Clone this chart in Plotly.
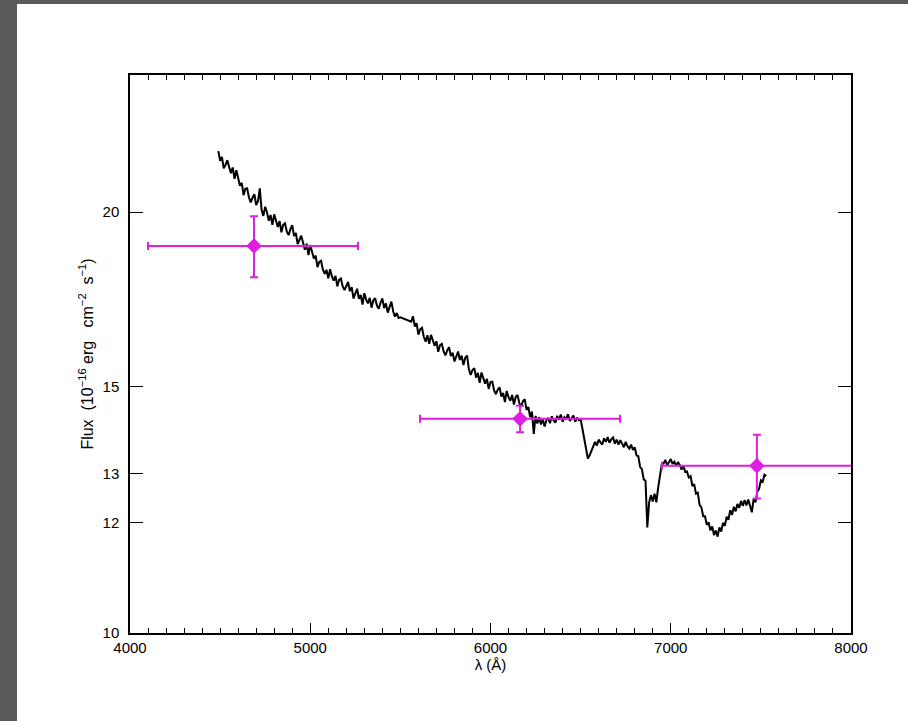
import plotly.graph_objects as go

# ---- Spectrum: flux (1e-16 erg cm^-2 s^-1) sampled every 10 Å from 4490 Å ----
WAVE_START = 4490
WAVE_STEP = 10
spec_flux = [
    22.12, 21.77, 21.91, 21.50, 21.62, 21.79, 21.55, 21.33, 21.53, 21.13,  # 4490
    21.43, 21.10, 20.89, 20.99, 20.57, 20.79, 20.80, 20.49, 20.33, 20.49,  # 4590
    20.60, 20.24, 20.37, 20.80, 20.08, 19.88, 20.18, 20.00, 19.72, 19.91,  # 4690
    19.59, 19.93, 19.68, 19.52, 19.71, 19.35, 19.59, 19.64, 19.37, 19.26,  # 4790
    19.45, 19.58, 19.23, 19.33, 18.98, 19.10, 19.24, 19.03, 18.80, 18.99,  # 4890
    18.64, 18.95, 18.70, 18.53, 18.62, 18.27, 18.43, 18.46, 18.20, 18.07,  # 4990
    18.19, 17.94, 18.21, 17.99, 17.87, 18.01, 17.70, 17.89, 17.93, 17.70,  # 5090
    17.59, 17.73, 17.83, 17.56, 17.68, 17.35, 17.49, 17.63, 17.34, 17.45,  # 5190
    17.18, 17.50, 17.32, 17.21, 17.37, 17.09, 17.30, 17.36, 17.15, 17.06,  # 5290
    17.23, 17.35, 17.08, 17.21, 16.95, 17.12, 17.26, 16.99, 16.84, 16.94,  # 5390
    16.80, 16.82, 16.80, 16.78, 16.76, 16.74, 16.72, 16.70, 16.85, 16.57,  # 5490
    16.66, 16.35, 16.49, 16.53, 16.29, 16.16, 16.33, 16.10, 16.34, 16.16,  # 5590
    16.05, 16.17, 15.89, 16.07, 16.10, 15.90, 15.80, 15.93, 16.01, 15.78,  # 5690
    15.87, 15.64, 15.78, 15.90, 15.68, 15.79, 15.55, 15.74, 15.79, 15.44,  # 5790
    15.30, 15.42, 15.47, 15.23, 15.35, 15.10, 15.36, 15.21, 15.08, 15.20,  # 5890
    14.95, 15.12, 15.13, 14.91, 14.82, 14.93, 14.99, 14.76, 14.85, 14.63,  # 5990
    14.90, 14.75, 14.66, 14.80, 14.57, 14.75, 14.80, 14.60, 14.52, 14.65,  # 6090
    14.70, 14.44, 14.51, 14.27, 14.40, 13.88, 14.30, 14.12, 14.27, 14.10,  # 6190
    14.22, 14.05, 14.20, 14.25, 14.13, 14.29, 14.19, 14.14, 14.30, 14.21,  # 6290
    14.33, 14.16, 14.27, 14.22, 14.34, 14.18, 14.25, 14.31, 14.16, 14.26,  # 6390
    14.20, 14.22, 14.00, 13.75, 13.50, 13.33, 13.40, 13.50, 13.58, 13.70,  # 6490
    13.62, 13.75, 13.69, 13.64, 13.78, 13.70, 13.81, 13.68, 13.76, 13.80,  # 6590
    13.66, 13.75, 13.64, 13.74, 13.66, 13.58, 13.70, 13.60, 13.55, 13.64,  # 6690
    13.52, 13.58, 13.40, 13.38, 13.15, 13.10, 12.88, 12.85, 11.90, 12.40,  # 6790
    12.55, 12.42, 12.58, 12.40, 12.70, 12.93, 13.20, 13.22, 13.30, 13.18,  # 6890
    13.27, 13.32, 13.21, 13.26, 13.17, 13.25, 13.19, 13.09, 13.17, 13.04,  # 6990
    13.05, 12.92, 12.95, 12.74, 12.78, 12.58, 12.60, 12.35, 12.30, 12.12,  # 7090
    12.12, 11.95, 12.00, 11.84, 11.92, 11.75, 11.84, 11.72, 11.90, 11.82,  # 7190
    11.99, 11.93, 12.11, 12.05, 12.24, 12.15, 12.31, 12.22, 12.37, 12.29,  # 7290
    12.43, 12.33, 12.45, 12.34, 12.46, 12.35, 12.20, 12.48, 12.40, 12.62,  # 7390
    12.68, 12.86, 12.83, 12.98, 12.95,                                     # 7490
]
spec_wave = [WAVE_START + WAVE_STEP * i for i in range(len(spec_flux))]

# ---- Broad-band photometry ----
phot_wave = [4688, 6164, 7478]
phot_flux = [18.92, 14.23, 13.17]
phot_wave_err_minus = [588, 555, 527]
phot_wave_err_plus = [577, 555, 527]
phot_flux_err = [0.95, 0.31, 0.69]

# ---- Axis ticks ----
x_tick_vals = [4000, 5000, 6000, 7000, 8000]
x_tick_text = ["4000", "5000", "6000", "7000", "8000"]
y_tick_vals = [10, 12, 13, 15, 20]
y_tick_text = ["10", "12", "13", "15", "20"]

MAGENTA = "#e01ee0"
FONT = dict(family="Liberation Sans, Arial, sans-serif", size=15, color="black")
TITLE_FONT = dict(family="Liberation Sans, Arial, sans-serif", size=16, color="black")
NB = "\u00a0"

fig = go.Figure()

fig.add_trace(go.Scatter(
    x=spec_wave, y=spec_flux, mode="lines",
    line=dict(color="black", width=2),
    hoverinfo="skip", showlegend=False,
))

fig.add_trace(go.Scatter(
    x=phot_wave, y=phot_flux, mode="markers",
    marker=dict(symbol="diamond", size=12, color=MAGENTA),
    error_x=dict(type="data", symmetric=False, array=phot_wave_err_plus,
                 arrayminus=phot_wave_err_minus, color=MAGENTA,
                 thickness=2, width=4),
    error_y=dict(type="data", array=phot_flux_err, color=MAGENTA,
                 thickness=2, width=4),
    showlegend=False,
))

# invisible trace carrying the top axis
fig.add_trace(go.Scatter(x=[4000, 8000], y=[10, 10], xaxis="x2",
                         mode="lines", line=dict(width=0),
                         hoverinfo="skip", showlegend=False))

y_title = (f"Flux{NB}{NB}(10<sup>−16</sup>{NB}erg{NB}{NB}{NB}cm<sup>−2</sup>"
           f"{NB}{NB}s<sup>−1</sup>)" + NB * 6)

fig.update_layout(
    width=908, height=721,
    margin=dict(l=130, r=57, t=75, b=88),
    paper_bgcolor="white", plot_bgcolor="white",
    font=FONT,
    xaxis=dict(
        range=[4000, 8000], tickmode="array", tickvals=x_tick_vals,
        ticktext=x_tick_text, ticks="inside", ticklen=10, tickwidth=1.3,
        tickcolor="black", showline=True, linecolor="black", linewidth=1.5,
        showgrid=False, zeroline=False,
        minor=dict(dtick=100, ticks="inside", ticklen=5, tickwidth=1.2,
                   tickcolor="black", showgrid=False),
        title=dict(text="λ (Å)", standoff=0, font=FONT),
        tickfont=FONT,
    ),
    xaxis2=dict(
        overlaying="x", side="top", range=[4000, 8000], dtick=100,
        tick0=4000, ticks="inside", ticklen=5, tickwidth=1.2,
        tickcolor="black", showticklabels=False, showline=True,
        linecolor="black", linewidth=1.5, showgrid=False, zeroline=False,
    ),
    yaxis=dict(
        type="log", range=[1.0, 1.3992], tickmode="array",
        tickvals=y_tick_vals, ticktext=y_tick_text, ticks="inside",
        ticklen=13, tickwidth=1.3, tickcolor="black", showline=True,
        linecolor="black", linewidth=1.5, mirror="ticks", showgrid=False,
        zeroline=False, ticklabelstandoff=6,
        title=dict(text=y_title, standoff=5, font=TITLE_FONT),
        tickfont=FONT,
    ),
    shapes=[
        # dark frame strips along the left and top edges of the page
        dict(type="rect", xref="paper", yref="paper", layer="below",
             x0=-130 / 721, x1=-113 / 721, y0=-88 / 558, y1=640 / 558,
             fillcolor="#595959", line=dict(width=0)),
        dict(type="rect", xref="paper", yref="paper", layer="below",
             x0=-130 / 721, x1=778 / 721, y0=629 / 558, y1=640 / 558,
             fillcolor="#595959", line=dict(width=0)),
    ],
)

fig.write_html("out.html")
